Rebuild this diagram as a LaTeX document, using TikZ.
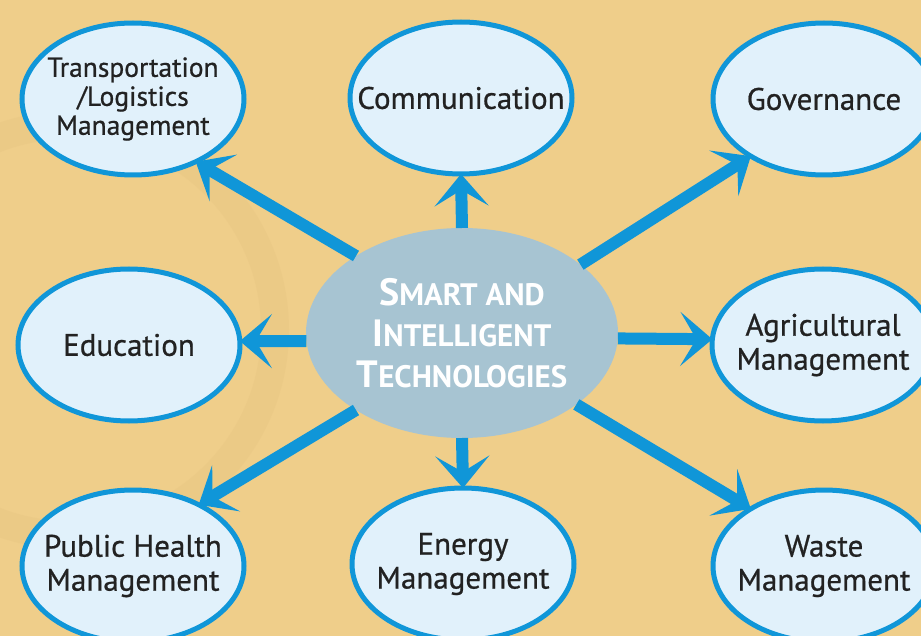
\documentclass[tikz,border=0pt]{standalone}
\usepackage{fontspec}
\setmainfont{PT Sans}
\newfontfamily\labfont{PT Sans}[FakeBold=0.7]
\usetikzlibrary{shapes.geometric,arrows.meta}
\definecolor{bg}{HTML}{EFCE8A}
\definecolor{bgdark}{HTML}{E2BF7E}
\definecolor{bl}{HTML}{1096D8}
\definecolor{fillb}{HTML}{E1F1FB}
\definecolor{cen}{HTML}{A7C4D2}
\definecolor{txt}{HTML}{222222}
\newcommand\mycapbig[1]{{\fontsize{38}{41}\selectfont #1}}
\begin{document}
\begin{tikzpicture}[x=1pt,y=-1pt,
  leaf/.style={ellipse, draw=bl, line width=5pt, fill=fillb, minimum width=222pt, minimum height=152pt,
    inner xsep=-50pt, inner ysep=-35pt, outer sep=0pt, align=center, text=txt, font=\labfont\fontsize{31}{34}\selectfont},
  hub/.style={ellipse, fill=cen, minimum width=312pt, minimum height=210pt, inner xsep=-50pt, inner ysep=-35pt, outer sep=0pt,
    align=center, text=white, font=\fontsize{31}{41}\selectfont\bfseries},
  arr/.style={draw=bl, line width=12pt, -{Stealth[length=32pt,width=54pt,inset=16pt]}}]
\useasboundingbox (0,0) rectangle (921,636);
\clip (0,0) rectangle (921,636);
\fill[bg] (0,0) rectangle (921,636);
\draw[bgdark, line width=28pt, opacity=0.25] (70,330) circle (205pt);
\node[hub] (C) at (462,333) {\mycapbig{S}MART AND\\\mycapbig{I}NTELLIGENT\\\mycapbig{T}ECHNOLOGIES};
\node[leaf, font=\labfont\fontsize{27.5}{29}\selectfont] (T) at (133,99) {Transportation\\/Logistics\\Management};
\node[leaf] (Com) at (461,98) {Communication};
\node[leaf] (Gov) at (824,99) {Governance};
\node[leaf] (Edu) at (129,345) {Education};
\node[leaf] (Agr) at (823,345) {Agricultural\\Management};
\node[leaf] (PH) at (133,566) {Public Health\\Management};
\node[leaf] (En) at (463,564) {Energy\\Management};
\node[leaf] (W) at (824,566) {Waste\\Management};
\draw[arr] (C.144) -- (T.-45);
\draw[arr] (C.90) -- (Com.-90);
\draw[arr] (C.30) -- (Gov.-142);
\draw[arr] (C.183) -- (Edu.2);
\draw[arr] (C.-2) -- (Agr.177);
\draw[arr] (C.216) -- (PH.43);
\draw[arr] (C.-90) -- (En.90);
\draw[arr] (C.-32) -- (W.142);
\end{tikzpicture}
\end{document}
